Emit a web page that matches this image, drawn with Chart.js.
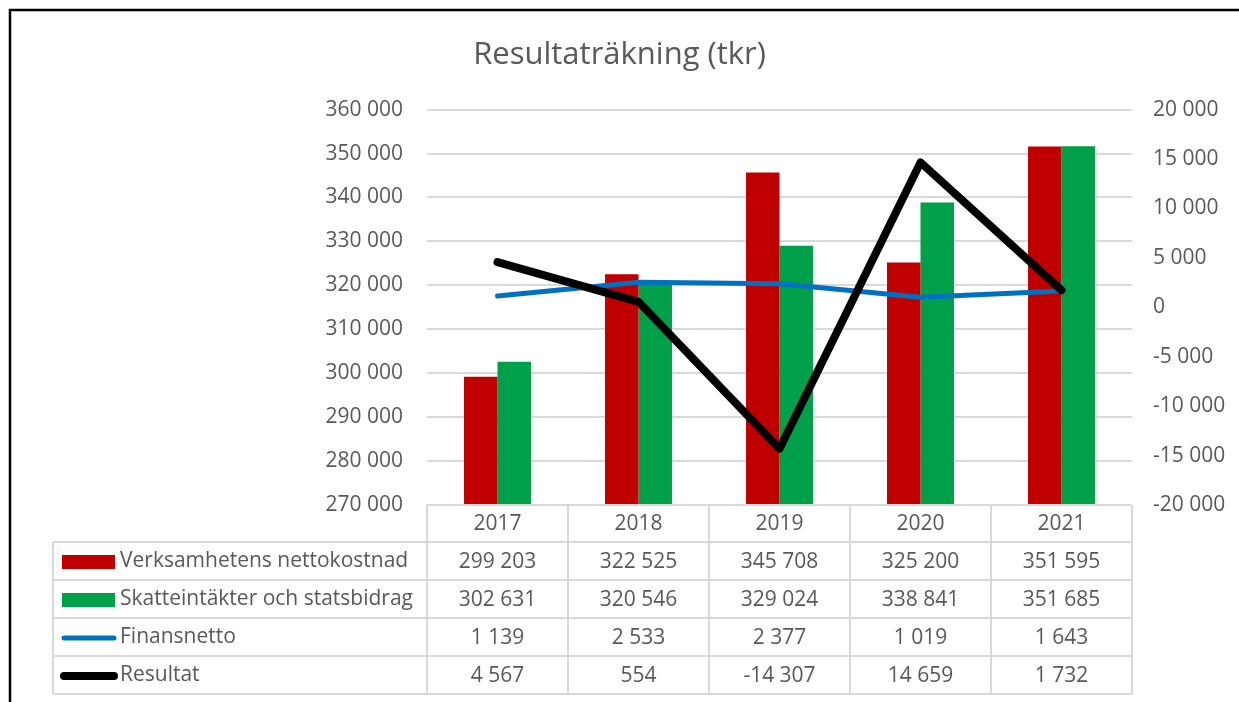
<!DOCTYPE html>
<html>
<head>
<meta charset="utf-8">
<script src="https://cdn.jsdelivr.net/npm/chart.js@4/dist/chart.umd.min.js"></script>
<style>
  html, body { margin: 0; padding: 0; background: #ffffff; }
  #wrap { position: relative; width: 1239px; height: 702px; }
</style>
</head>
<body>
<div id="wrap"><canvas id="c" width="1239" height="702"></canvas></div>
<script>
const categories = ['2017', '2018', '2019', '2020', '2021'];
const nettokostnad = [299203, 322525, 345708, 325200, 351595];
const skatteintakter = [302631, 320546, 329024, 338841, 351685];
const finansnetto = [1139, 2533, 2377, 1019, 1643];
const resultat = [4567, 554, -14307, 14659, 1732];
const seriesNames = ['Verksamhetens nettokostnad', 'Skatteintäkter och statsbidrag', 'Finansnetto', 'Resultat'];
const leftAxisRange = [270000, 360000, 10000];
const rightAxisRange = [-20000, 20000, 5000];
const titleText = 'Resultaträkning (tkr)';

const FONT = "'Open Sans', 'Liberation Sans', sans-serif";
const TXT = '#595959';
const GRID = '#d9d9d9';
const COLORS = ['#C00000', '#00A04A', '#0070C0', '#000000'];

function fmt(v) {
  const s = Math.abs(Math.round(v)).toString().replace(/\B(?=(\d{3})+(?!\d))/g, ' ');
  return (v < 0 ? '-' : '') + s;
}

const tablePlugin = {
  id: 'dataTable',
  afterDraw(chart) {
    const ctx = chart.ctx;
    const area = chart.chartArea;
    const n = categories.length;
    const cw = (area.right - area.left) / n;
    const top = area.bottom;
    const rowH = [37, 38, 38, 38, 38];
    const ys = [top];
    rowH.forEach(h => ys.push(ys[ys.length - 1] + h));
    const tableLeft = 53;
    ctx.save();
    ctx.strokeStyle = GRID;
    ctx.lineWidth = 2;
    ctx.beginPath();
    ctx.moveTo(area.left, ys[0]); ctx.lineTo(area.right, ys[0]);
    for (let i = 1; i < ys.length; i++) {
      ctx.moveTo(tableLeft, ys[i]); ctx.lineTo(area.right, ys[i]);
    }
    ctx.moveTo(tableLeft, ys[1]); ctx.lineTo(tableLeft, ys[ys.length - 1]);
    for (let i = 0; i <= n; i++) {
      const x = area.left + i * cw;
      ctx.moveTo(x, ys[0]); ctx.lineTo(x, ys[ys.length - 1]);
    }
    ctx.stroke();

    ctx.fillStyle = TXT;
    ctx.font = '21px ' + FONT;
    ctx.textBaseline = 'middle';
    ctx.textAlign = 'center';
    const xs = chart.scales.x;
    categories.forEach((c, i) => {
      ctx.fillText(c, xs.getPixelForValue(i), (ys[0] + ys[1]) / 2 + 1);
    });
    const rows = [nettokostnad, skatteintakter, finansnetto, resultat];
    rows.forEach((vals, r) => {
      const yc = (ys[r + 1] + ys[r + 2]) / 2 + 1;
      ctx.textAlign = 'center';
      ctx.fillStyle = TXT;
      vals.forEach((v, i) => ctx.fillText(fmt(v), xs.getPixelForValue(i), yc));
      if (r < 2) {
        ctx.fillStyle = COLORS[r];
        ctx.fillRect(62, yc - 7, 53, 14);
      } else {
        ctx.strokeStyle = COLORS[r];
        ctx.lineWidth = r === 2 ? 5 : 8;
        ctx.lineCap = 'round';
        ctx.beginPath();
        ctx.moveTo(64, yc); ctx.lineTo(114, yc);
        ctx.stroke();
      }
      ctx.fillStyle = TXT;
      ctx.textAlign = 'left';
      ctx.fillText(seriesNames[r], 120, yc - 1);
    });

    ctx.strokeStyle = '#000000';
    ctx.lineWidth = 2.5;
    ctx.lineCap = 'butt';
    ctx.beginPath();
    ctx.moveTo(10, 702); ctx.lineTo(10, 10); ctx.lineTo(1239, 10);
    ctx.stroke();
    ctx.restore();
  }
};

new Chart(document.getElementById('c'), {
  data: {
    labels: categories,
    datasets: [
      { type: 'line', label: seriesNames[3], data: resultat, yAxisID: 'y2', order: 0,
        borderColor: COLORS[3], borderWidth: 8, pointRadius: 0, tension: 0,
        borderCapStyle: 'round', borderJoinStyle: 'round', fill: false },
      { type: 'line', label: seriesNames[2], data: finansnetto, yAxisID: 'y2', order: 1,
        borderColor: COLORS[2], borderWidth: 5, pointRadius: 0, tension: 0,
        borderCapStyle: 'round', borderJoinStyle: 'round', fill: false },
      { type: 'bar', label: seriesNames[0], data: nettokostnad, yAxisID: 'y', order: 2,
        backgroundColor: COLORS[0], barPercentage: 1, categoryPercentage: 0.475 },
      { type: 'bar', label: seriesNames[1], data: skatteintakter, yAxisID: 'y', order: 3,
        backgroundColor: COLORS[1], barPercentage: 1, categoryPercentage: 0.475 }
    ]
  },
  options: {
    responsive: false,
    animation: false,
    devicePixelRatio: 1,
    layout: { padding: 0 },
    plugins: {
      legend: { display: false },
      tooltip: { enabled: false },
      title: {
        display: true, text: titleText, color: TXT,
        font: { family: FONT, size: 31, weight: '400' },
        padding: { top: 37, bottom: 35.4 }
      }
    },
    scales: {
      x: {
        type: 'category', offset: true,
        grid: { display: false, drawTicks: false },
        border: { display: false },
        ticks: { display: false },
        afterFit: s => { s.height = 197; }
      },
      y: {
        position: 'left', min: leftAxisRange[0], max: leftAxisRange[1],
        ticks: { stepSize: leftAxisRange[2], callback: v => fmt(v), color: TXT,
                 font: { family: FONT, size: 21 }, padding: 24 },
        grid: { color: GRID, lineWidth: 2, drawTicks: false },
        border: { display: false },
        afterFit: s => { s.width = 427; }
      },
      y2: {
        position: 'right', min: rightAxisRange[0], max: rightAxisRange[1],
        ticks: { stepSize: rightAxisRange[2], callback: v => fmt(v), color: TXT,
                 font: { family: FONT, size: 21 }, padding: 21 },
        grid: { display: false, drawTicks: false },
        border: { display: false },
        afterFit: s => { s.width = 107; }
      }
    }
  },
  plugins: [tablePlugin]
});
</script>
</body>
</html>
